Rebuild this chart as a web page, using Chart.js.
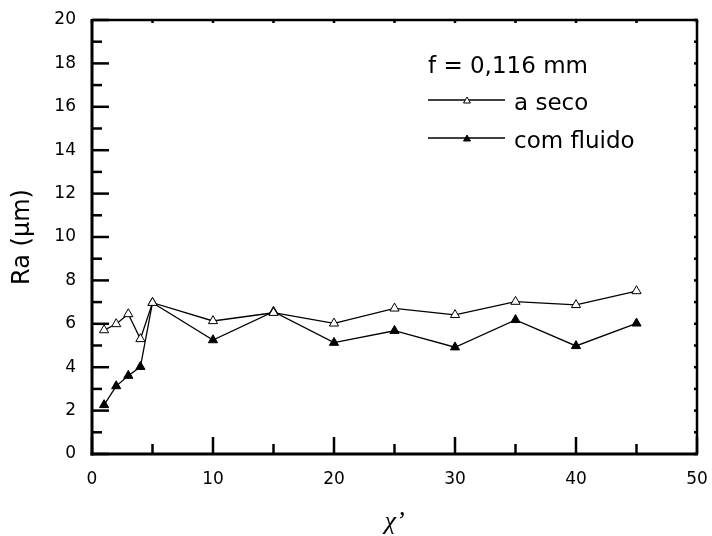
<!DOCTYPE html>
<html><head><meta charset="utf-8">
<script src="https://cdn.jsdelivr.net/npm/chart.js@4/dist/chart.umd.min.js"></script>
<style>html,body{margin:0;padding:0;background:#fff}#wrap{width:712px;height:536px}</style>
</head><body><div id="wrap"><canvas id="c" width="712" height="536"></canvas></div>
<script>
// ---- data ----
const chiValues = [1, 2, 3, 4, 5, 10, 15, 20, 25, 30, 35, 40, 45];
const raSeco    = [5.71, 5.99, 6.45, 5.30, 6.97, 6.13, 6.51, 6.02, 6.71, 6.41, 7.02, 6.87, 7.51];
const raFluido  = [2.26, 3.13, 3.61, 4.02, 6.97, 5.25, 6.56, 5.13, 5.68, 4.92, 6.18, 4.98, 6.02];
const xTicks = [0, 10, 20, 30, 40, 50];
const yTicks = [0, 2, 4, 6, 8, 10, 12, 14, 16, 18, 20];
const seriesNames = ['a seco', 'com fluido'];
const noteText = 'f = 0,116 mm';
const xTitle = 'χ’';
const yTitle = 'Ra (μm)';

const FONT = '"DejaVu Sans", "Liberation Sans", sans-serif';

const frameAndLegend = {
  id: 'frameAndLegend',
  afterDraw(chart) {
    const {ctx, chartArea: a, scales: {x, y}} = chart;
    ctx.save();
    ctx.strokeStyle = '#000';
    ctx.lineCap = 'butt';
    const line = (x1, y1, x2, y2) => { ctx.beginPath(); ctx.moveTo(x1, y1); ctx.lineTo(x2, y2); ctx.stroke(); };
    // ticks (inward)
    ctx.lineWidth = 2.5;
    const yMin = yTicks[0], yMax = yTicks[yTicks.length - 1];
    for (let v = yMin; v <= yMax; v += 1) {
      const py = y.getPixelForValue(v);
      const major = yTicks.includes(v);
      line(a.left, py, a.left + (major ? 17 : 10), py);
      line(a.right, py, a.right - 3, py);
    }
    const xMin = xTicks[0], xMax = xTicks[xTicks.length - 1];
    for (let v = xMin; v <= xMax; v += 5) {
      const px = x.getPixelForValue(v);
      const major = xTicks.includes(v);
      line(px, a.bottom, px, a.bottom - (major ? 17 : 10));
      line(px, a.top, px, a.top + 3);
    }
    // frame
    ctx.lineWidth = 3;
    line(a.left, a.top - 1, a.left, a.bottom + 1.5);
    line(a.left - 1.5, a.bottom, a.right + 1, a.bottom);
    ctx.lineWidth = 2.5;
    line(a.left, a.top, a.right + 1, a.top);
    line(a.right, a.top, a.right, a.bottom);

    // legend / note
    ctx.fillStyle = '#000';
    ctx.font = '23px ' + FONT;
    ctx.textBaseline = 'alphabetic';
    ctx.textAlign = 'left';
    ctx.fillText(noteText, 428, 73);
    const rows = [{y: 100, base: 110}, {y: 138, base: 148}];
    chart.data.datasets.forEach((ds, i) => {
      const r = rows[i];
      ctx.lineWidth = 1.3;
      ctx.strokeStyle = '#000';
      line(428, r.y, 505, r.y);
      ctx.fillStyle = ds.pointBackgroundColor;
      ctx.strokeStyle = '#000';
      ctx.lineWidth = 1;
      Chart.helpers.drawPoint(ctx, {pointStyle: 'triangle', radius: 4, borderWidth: 1, rotation: 0}, 467, r.y + 1);
      ctx.fillStyle = '#000';
      ctx.fillText(ds.label, 514, r.base);
    });
    ctx.restore();
  }
};

new Chart(document.getElementById('c'), {
  type: 'line',
  data: {
    datasets: [
      {
        label: seriesNames[0],
        data: chiValues.map((c, i) => ({x: c, y: raSeco[i]})),
        borderColor: '#000', borderWidth: 1.3,
        pointStyle: 'triangle', pointRadius: 5.3,
        pointBackgroundColor: '#fff', pointBorderColor: '#000', pointBorderWidth: 1,
        tension: 0
      },
      {
        label: seriesNames[1],
        data: chiValues.map((c, i) => ({x: c, y: raFluido[i]})),
        borderColor: '#000', borderWidth: 1.3,
        pointStyle: 'triangle', pointRadius: 5.3,
        pointBackgroundColor: '#000', pointBorderColor: '#000', pointBorderWidth: 1,
        tension: 0
      }
    ]
  },
  options: {
    responsive: false,
    animation: false,
    devicePixelRatio: 1,
    layout: {padding: {top: 20, right: 15, left: 0, bottom: 0}},
    plugins: {legend: {display: false}, tooltip: {enabled: false}},
    scales: {
      x: {
        type: 'linear', min: xTicks[0], max: xTicks[xTicks.length - 1],
        afterBuildTicks: s => { s.ticks = xTicks.map(v => ({value: v})); },
        afterFit: s => { s.height = 82; s.paddingLeft = 0; s.paddingRight = 0; },
        grid: {display: false, drawTicks: false},
        border: {display: false},
        ticks: {color: '#000', padding: 15, font: {family: FONT, size: 17}, maxRotation: 0},
        title: {display: true, text: xTitle, color: '#000',
          font: {family: '"Liberation Serif", "DejaVu Serif", serif', size: 26, style: 'italic', lineHeight: 1},
          padding: {top: 0, bottom: 1}}
      },
      y: {
        type: 'linear', min: yTicks[0], max: yTicks[yTicks.length - 1],
        afterBuildTicks: s => { s.ticks = yTicks.map(v => ({value: v})); },
        afterFit: s => { s.width = 92; s.paddingTop = 0; s.paddingBottom = 0; },
        grid: {display: false, drawTicks: false},
        border: {display: false},
        ticks: {color: '#000', padding: 16, font: {family: FONT, size: 17}},
        title: {display: true, text: yTitle, color: '#000',
          font: {family: FONT, size: 24, lineHeight: 1.2},
          padding: {top: 8, bottom: 0}}
      }
    }
  },
  plugins: [frameAndLegend]
});
</script>
</body></html>
